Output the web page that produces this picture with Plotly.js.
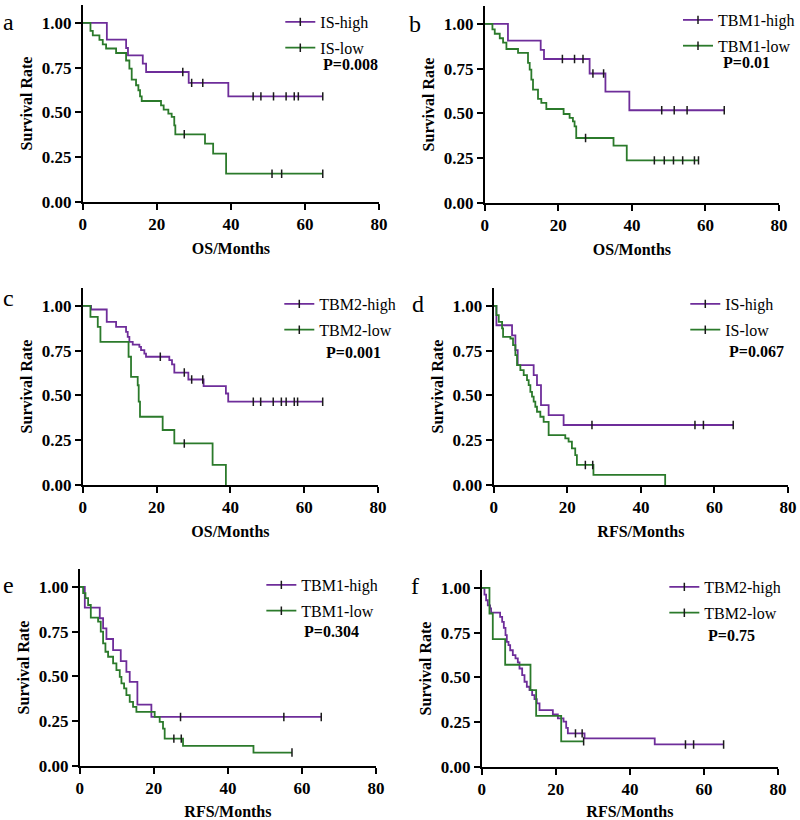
<!DOCTYPE html>
<html>
<head>
<meta charset="utf-8">
<script src="https://cdn.plot.ly/plotly-3.0.1.min.js"></script>
<style>html,body{margin:0;padding:0;background:#fff;}#chart{width:800px;height:820px;}</style>
</head>
<body>
<div id="chart"></div>
<script>
// ---------- DATA ----------
const xTicks = [0, 20, 40, 60, 80];
const yTicks = [0, 0.25, 0.5, 0.75, 1.0];

// Panel a : OS, IS
const aHighT = [6.5, 11.7, 12.2, 16.2, 17.1, 28.6, 39.3];
const aHighS = [0.907, 0.86, 0.819, 0.773, 0.726, 0.665, 0.590];
const aHighC = [27.0, 29.4, 32.4, 46.0, 48.1, 51.5, 54.9, 57.1, 58.2, 64.8];
const aLowT = [2.07, 2.7, 4.49, 5.39, 6.29, 8.99, 11.69, 12.58, 13.21, 14.38, 15.01, 15.46, 15.91, 21.12, 21.84, 23.10, 24.0, 24.7, 24.99, 33.0, 35.2, 38.7];
const aLowS = [0.955, 0.93, 0.905, 0.88, 0.857, 0.832, 0.79, 0.745, 0.683, 0.652, 0.624, 0.590, 0.564, 0.540, 0.516, 0.493, 0.475, 0.428, 0.378, 0.326, 0.270, 0.158];
const aLowC = [27.4, 51.1, 53.7, 64.8];

// Panel b : OS, TBM1
const bHighT = [6.3, 15.2, 16.1, 28.5, 32.8, 39.3];
const bHighS = [0.907, 0.855, 0.804, 0.723, 0.622, 0.518];
const bHighC = [21.1, 24.4, 26.7, 29.4, 32.3, 48.1, 51.5, 55.0, 65.1];
const bLowT = [2.08, 2.71, 4.07, 4.97, 5.88, 9.04, 11.75, 12.21, 12.66, 13.11, 14.47, 15.37, 16.73, 21.43, 23.06, 23.96, 24.41, 24.86, 35.0, 38.6];
const bLowS = [0.97, 0.945, 0.92, 0.895, 0.86, 0.838, 0.782, 0.745, 0.689, 0.633, 0.581, 0.559, 0.525, 0.497, 0.475, 0.456, 0.428, 0.363, 0.320, 0.238];
const bLowC = [27.4, 46.1, 48.8, 51.3, 53.8, 57.0, 58.1];

// Panel c : OS, TBM2
const cHighT = [2.25, 6.49, 9.02, 11.72, 12.17, 12.62, 13.53, 15.33, 15.78, 16.68, 17.13, 23.44, 24.17, 24.8, 28.6, 32.73, 38.77, 39.4];
const cHighS = [0.98, 0.911, 0.883, 0.855, 0.827, 0.799, 0.784, 0.771, 0.753, 0.734, 0.716, 0.697, 0.673, 0.628, 0.589, 0.552, 0.511, 0.465];
const cHighC = [21.0, 27.5, 29.5, 32.5, 46.2, 48.2, 51.6, 53.8, 55.1, 57.3, 58.2, 65.0];
const cLowT = [2.07, 4.06, 4.78, 12.4, 13.07, 14.88, 15.15, 15.5, 21.64, 24.8, 35.17, 38.77];
const cLowS = [0.939, 0.883, 0.799, 0.716, 0.604, 0.557, 0.465, 0.381, 0.307, 0.232, 0.112, 0];
const cLowC = [27.5];

// Panel d : RFS, IS
const dHighT = [0.72, 4.97, 5.88, 6.51, 10.85, 11.75, 12.84, 14.92, 18.99];
const dHighS = [0.892, 0.836, 0.753, 0.669, 0.613, 0.558, 0.446, 0.390, 0.335];
const dHighC = [26.7, 54.7, 57.0, 65.1];
const dLowT = [0.72, 1.36, 2.26, 2.53, 4.52, 5.24, 5.88, 6.33, 7.23, 8.14, 9.04, 9.49, 9.95, 10.40, 10.85, 11.30, 11.75, 12.66, 13.56, 14.92, 19.44, 20.34, 21.25, 22.15, 22.6, 27.1, 46.6];
const dLowS = [0.948, 0.911, 0.874, 0.827, 0.818, 0.781, 0.725, 0.669, 0.641, 0.613, 0.586, 0.558, 0.520, 0.493, 0.465, 0.437, 0.409, 0.381, 0.353, 0.279, 0.260, 0.242, 0.204, 0.167, 0.112, 0.056, 0];
const dLowC = [24.9, 26.9];

// Panel e : RFS, TBM1
const eHighT = [1.35, 5.39, 6.29, 7.19, 8.99, 11.06, 12.58, 13.48, 15.55, 19.33];
const eHighS = [0.884, 0.825, 0.769, 0.709, 0.647, 0.586, 0.526, 0.470, 0.343, 0.274];
const eHighC = [27.2, 55.1, 65.2];
const eLowT = [0.9, 1.53, 2.25, 2.97, 4.94, 5.66, 6.29, 6.92, 7.64, 8.99, 9.89, 10.79, 11.24, 11.96, 12.58, 13.48, 14.38, 15.28, 20.22, 21.57, 22.47, 22.92, 27.87, 46.9];
const eLowS = [0.965, 0.937, 0.899, 0.828, 0.806, 0.75, 0.685, 0.638, 0.610, 0.573, 0.535, 0.498, 0.461, 0.433, 0.396, 0.358, 0.330, 0.302, 0.274, 0.246, 0.209, 0.153, 0.112, 0.075];
const eLowC = [25.4, 27.4, 57.3];

// Panel f : RFS, TBM2
const fHighT = [0.72, 1.17, 1.62, 2.25, 2.52, 4.95, 5.5, 5.95, 6.4, 6.76, 7.21, 7.66, 8.38, 9.1, 9.73, 10.18, 10.9, 11.53, 12.16, 12.88, 13.6, 14.23, 14.86, 15.59, 19.19, 20.54, 22.07, 22.79, 23.24, 27.75, 46.7];
const fHighS = [0.963, 0.931, 0.903, 0.885, 0.862, 0.838, 0.810, 0.777, 0.736, 0.699, 0.680, 0.652, 0.625, 0.606, 0.584, 0.550, 0.513, 0.476, 0.448, 0.429, 0.401, 0.379, 0.355, 0.318, 0.294, 0.271, 0.253, 0.219, 0.188, 0.160, 0.126];
const fHighC = [25.3, 27.1, 55.0, 57.2, 65.3];
const fLowT = [2.07, 2.97, 6.31, 13.15, 14.68, 21.44];
const fLowS = [0.857, 0.714, 0.571, 0.429, 0.286, 0.143];
const fLowC = [27.5];

const panelLetters = ['a', 'b', 'c', 'd', 'e', 'f'];
const highNames = ['IS-high', 'TBM1-high', 'TBM2-high', 'IS-high', 'TBM1-high', 'TBM2-high'];
const lowNames  = ['IS-low', 'TBM1-low', 'TBM2-low', 'IS-low', 'TBM1-low', 'TBM2-low'];
const pValues   = ['P=0.008', 'P=0.01', 'P=0.001', 'P=0.067', 'P=0.304', 'P=0.75'];
const xTitles   = ['OS/Months', 'OS/Months', 'OS/Months', 'RFS/Months', 'RFS/Months', 'RFS/Months'];

// ---------- STYLE / LAYOUT ----------
const W = 800, H = 820;
const PURPLE = '#6E2D9A', GREEN = '#2B7A2B', TICKC = '#1a1a1a';
const FONT = 'Liberation Serif, Times New Roman, serif';

const boxes = [
  [83, 380, 5, 202],
  [486, 781, 6, 203],
  [83, 379, 288, 485],
  [495, 790, 288, 485],
  [80, 377, 569, 766],
  [483, 780, 570, 767]
];
const legPos = [
  [321, 18, 322, 65],
  [720, 16, 723, 63],
  [320, 300, 325, 353],
  [727, 300, 729, 352],
  [302, 581, 303, 631],
  [706, 583, 708, 635]
];
const letterPos = [[9, 22], [416, 24], [9, 298], [419, 304], [9, 585], [416, 586]];

const series = [
  [[aHighT, aHighS, aHighC], [aLowT, aLowS, aLowC]],
  [[bHighT, bHighS, bHighC], [bLowT, bLowS, bLowC]],
  [[cHighT, cHighS, cHighC], [cLowT, cLowS, cLowC]],
  [[dHighT, dHighS, dHighC], [dLowT, dLowS, dLowC]],
  [[eHighT, eHighS, eHighC], [eLowT, eLowS, eLowC]],
  [[fHighT, fHighS, fHighC], [fLowT, fLowS, fLowC]]
];

function stepPath(T, S, C) {
  const end = Math.max(T[T.length - 1], C.length ? C[C.length - 1] : 0);
  const x = [0].concat(T), y = [1].concat(S);
  if (end > T[T.length - 1]) { x.push(end); y.push(S[S.length - 1]); }
  return {x, y};
}
function levelAt(T, S, t) {
  let v = 1;
  for (let i = 0; i < T.length; i++) if (T[i] <= t) v = S[i];
  return v;
}

const traces = [];
const layout = {
  width: W, height: H,
  margin: {l: 0, r: 0, t: 0, b: 0},
  paper_bgcolor: '#fff', plot_bgcolor: 'rgba(0,0,0,0)',
  showlegend: true,
  font: {family: FONT, color: '#000'},
  annotations: []
};

series.forEach((pair, k) => {
  const n = k + 1;
  const xa = n === 1 ? 'x' : 'x' + n, ya = n === 1 ? 'y' : 'y' + n;
  const legId = n === 1 ? 'legend' : 'legend' + n;
  const [L, R, Tp, B] = boxes[k];
  const tickFont = {family: FONT, size: 17, color: '#000', weight: 'bold'};
  layout[n === 1 ? 'xaxis' : 'xaxis' + n] = {
    domain: [L / W, R / W], anchor: ya, range: [0, 80], tickvals: xTicks,
    ticks: 'outside', ticklen: 6, tickwidth: 2, tickcolor: '#000',
    showline: true, linewidth: 2, linecolor: '#000', showgrid: false, zeroline: false,
    tickfont: tickFont, fixedrange: true,
    title: {text: '<b>' + xTitles[k] + '</b>', font: {family: FONT, size: 16, color: '#000'}, standoff: 9}
  };
  layout[n === 1 ? 'yaxis' : 'yaxis' + n] = {
    domain: [1 - B / H, 1 - Tp / H], anchor: xa, range: [0, 1.1], tickvals: yTicks, tickformat: '.2f',
    ticks: 'outside', ticklen: 6, tickwidth: 2, tickcolor: '#000',
    showline: true, linewidth: 2, linecolor: '#000', showgrid: false, zeroline: false,
    tickfont: tickFont, fixedrange: true,
    title: {text: '<b>Survival Rate</b>', font: {family: FONT, size: 16, color: '#000'}, standoff: 5}
  };
  const names = [highNames[k], lowNames[k]];
  const colors = [PURPLE, GREEN];
  pair.forEach((s, j) => {
    const [T, S, C] = s;
    const p = stepPath(T, S, C);
    traces.push({
      type: 'scatter', mode: 'lines', x: p.x, y: p.y, xaxis: xa, yaxis: ya,
      line: {shape: 'hv', color: colors[j], width: 1.8}, showlegend: false, hoverinfo: 'skip'
    });
    traces.push({
      type: 'scatter', mode: 'markers', x: C, y: C.map(c => levelAt(T, S, c)), xaxis: xa, yaxis: ya,
      marker: {symbol: 'line-ns', size: 6, line: {width: 1.5, color: TICKC}}, showlegend: false, hoverinfo: 'skip'
    });
    traces.push({
      type: 'scatter', mode: 'lines+markers', x: [null], y: [null], xaxis: xa, yaxis: ya,
      name: names[j], legend: legId, legendgroup: 'g' + n + j,
      line: {color: colors[j], width: 1.8},
      marker: {symbol: 'line-ns', size: 6, line: {width: 1.5, color: TICKC}}
    });
  });
  const lp = legPos[k];
  layout[legId] = {
    x: (lp[0] - 40) / W, y: 1 - (lp[1] - 13) / H, xanchor: 'left', yanchor: 'top',
    bgcolor: 'rgba(0,0,0,0)', borderwidth: 0, traceorder: 'grouped', tracegroupgap: 2,
    font: {family: FONT, size: 16, color: '#000'}
  };
  layout.annotations.push({
    xref: 'paper', yref: 'paper', x: lp[2] / W, y: 1 - lp[3] / H, xanchor: 'left', yanchor: 'middle',
    text: '<b>' + pValues[k] + '</b>', showarrow: false, font: {family: FONT, size: 16, color: '#000'}
  });
  const lt = letterPos[k];
  layout.annotations.push({
    xref: 'paper', yref: 'paper', x: lt[0] / W, y: 1 - lt[1] / H, xanchor: 'center', yanchor: 'middle',
    text: panelLetters[k], showarrow: false, font: {family: FONT, size: 24, color: '#000'}
  });
});

Plotly.newPlot('chart', traces, layout, {displayModeBar: false, staticPlot: true});
</script>
</body>
</html>
